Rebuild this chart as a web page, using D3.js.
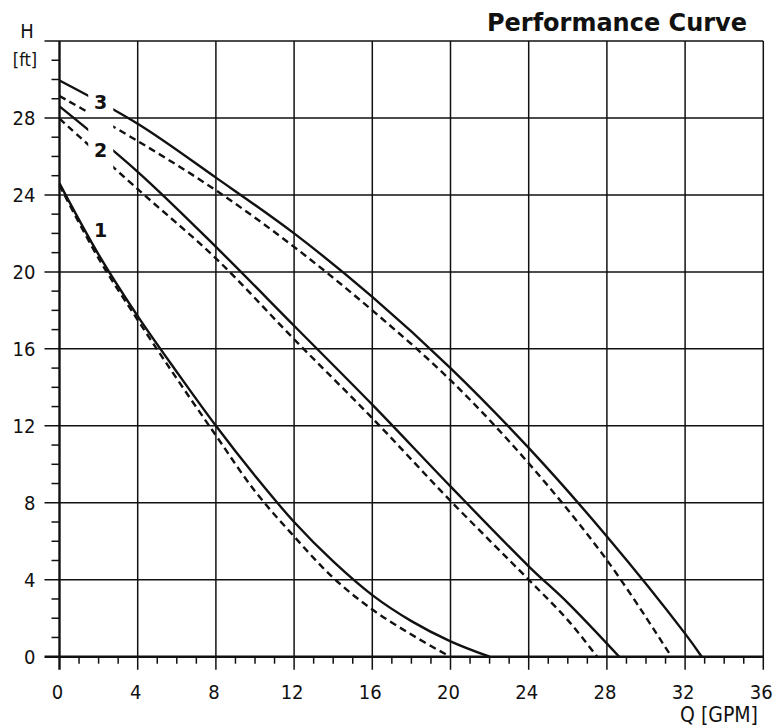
<!DOCTYPE html>
<html><head><meta charset="utf-8">
<script src="https://cdn.jsdelivr.net/npm/d3@7"></script>
<style>
html,body{margin:0;padding:0;background:#fff;}
svg{display:block;}
.tick-label{font-family:"Liberation Sans Narrow","DejaVu Sans Condensed","Liberation Sans",sans-serif;font-size:20px;fill:#111;}
</style>
</head><body>
<svg id="chart" width="782" height="728"></svg>
<script>
// ---- data ----
const xTickValues = [0, 4, 8, 12, 16, 20, 24, 28, 32, 36];
const yTickValues = [0, 4, 8, 12, 16, 20, 24, 28];
const curveLabels = ["1", "2", "3"];

// pump 1 (Q [GPM], H [ft])
const curve1Solid = [[0,24.6],[2,20.9],[4,17.7],[6,14.8],[8,12.0],[10,9.4],[12,7.0],[14,4.95],[16,3.2],[18,1.85],[20,0.8],[22,0]];
const curve1Dashed = [[0,24.5],[2,20.7],[4,17.5],[6,14.45],[8,11.5],[10,8.6],[12,6.25],[14,4.1],[16,2.45],[18,1.15],[19.8,0.1]];
// pump 2
const curve2Solid = [[0,28.6],[4,25.2],[8,21.3],[12,17.2],[16,13.1],[20,8.85],[24,4.7],[26,2.8],[28.63,0]];
const curve2Dashed = [[0,27.96],[4,24.3],[8,20.7],[12,16.5],[16,12.4],[20,8.1],[24,4.0],[26,1.9],[27.5,0]];
// pump 3
const curve3Solid = [[0,29.95],[4,27.7],[8,24.9],[12,22.0],[16,18.7],[20,15.0],[24,10.85],[28,6.25],[32,1.2],[32.85,0]];
const curve3Dashed = [[0,29.14],[4,26.8],[8,24.24],[12,21.3],[16,18.0],[20,14.37],[24,10.05],[28,5.02],[31.3,0]];

// ---- layout ----
const svg = d3.select("#chart");
const x = d3.scaleLinear().domain([0, 36]).range([59.5, 763.3]);
const y = d3.scaleLinear().domain([0, 32]).range([656.7, 41]);

const ink = "#111";

// curves
const line = d3.line().x(d => x(d[0])).y(d => y(d[1])).curve(d3.curveCatmullRom.alpha(0.5));
const curves = [
  {data: curve1Solid, dash: null},
  {data: curve1Dashed, dash: "7,4.5"},
  {data: curve2Solid, dash: null},
  {data: curve2Dashed, dash: "7,4.5"},
  {data: curve3Solid, dash: null},
  {data: curve3Dashed, dash: "7,4.5"}
];
svg.append("g").selectAll("path").data(curves).join("path")
  .attr("d", d => line(d.data))
  .attr("fill", "none")
  .attr("stroke", ink)
  .attr("stroke-width", 2.4)
  .attr("stroke-dasharray", d => d.dash);

// knock-out behind labels 2 and 3
svg.append("rect")
  .attr("x", x(1.47)).attr("width", x(2.75) - x(1.47))
  .attr("y", y(30)).attr("height", y(24.6) - y(30))
  .attr("fill", "#fff");

// grid
const grid = svg.append("g").attr("stroke", ink).attr("stroke-width", 1.5);
grid.selectAll("line.v").data(xTickValues.slice(1)).join("line")
  .attr("class", "v")
  .attr("x1", d => x(d)).attr("x2", d => x(d))
  .attr("y1", y(32)).attr("y2", y(0) + 13);
grid.selectAll("line.h").data(yTickValues.slice(1).concat([32])).join("line")
  .attr("class", "h")
  .attr("x1", x(0) - 15).attr("x2", x(36))
  .attr("y1", d => y(d)).attr("y2", d => y(d));

// minor ticks
const minorX = d3.range(0, 37).filter(v => v % 4 !== 0);
const minorY = d3.range(0, 33).filter(v => v % 4 !== 0);
grid.selectAll("line.mx").data(minorX).join("line")
  .attr("class", "mx")
  .attr("x1", d => x(d)).attr("x2", d => x(d))
  .attr("y1", y(0)).attr("y2", y(0) + 7);
grid.selectAll("line.my").data(minorY).join("line")
  .attr("class", "my")
  .attr("x1", x(0) - 8).attr("x2", x(0))
  .attr("y1", d => y(d)).attr("y2", d => y(d));

// main axes (thick)
const axes = svg.append("g").attr("stroke", ink).attr("stroke-width", 2.4);
axes.append("line").attr("x1", x(0)).attr("x2", x(0)).attr("y1", y(32)).attr("y2", y(0) + 13);
axes.append("line").attr("x1", x(0) - 15).attr("x2", x(36)).attr("y1", y(0)).attr("y2", y(0));

// tick labels
svg.append("g").selectAll("text").data(xTickValues).join("text")
  .attr("class", "tick-label")
  .attr("x", d => x(d) - 2).attr("y", y(0) + 42)
  .attr("text-anchor", "middle")
  .text(d => d);
svg.append("g").selectAll("text").data(yTickValues).join("text")
  .attr("class", "tick-label")
  .attr("x", x(0) - 24).attr("y", d => y(d) + 7)
  .attr("text-anchor", "end")
  .text(d => d);

// axis titles
svg.append("text").attr("class", "tick-label")
  .attr("x", 27).attr("y", 38).attr("text-anchor", "middle").text("H");
svg.append("text").attr("class", "tick-label").style("font-size", "18px")
  .attr("x", 25).attr("y", 66).attr("text-anchor", "middle").text("[ft]");
svg.append("text").attr("class", "tick-label").style("font-size", "21px")
  .attr("x", 758).attr("y", 722).attr("text-anchor", "end").text("Q [GPM]");

// title
svg.append("text")
  .attr("x", 747).attr("y", 31)
  .attr("text-anchor", "end")
  .style("font-family", "'DejaVu Sans', sans-serif")
  .style("font-weight", "bold")
  .style("font-size", "24px")
  .attr("fill", ink)
  .text("Performance Curve");

// curve labels
const labelPos = [[2.1, 21.8], [2.1, 25.95], [2.1, 28.45]];
svg.append("g").selectAll("text").data(curveLabels).join("text")
  .attr("x", (d, i) => x(labelPos[i][0]))
  .attr("y", (d, i) => y(labelPos[i][1]))
  .attr("text-anchor", "middle")
  .style("font-family", "'DejaVu Sans', sans-serif")
  .style("font-weight", "bold")
  .style("font-size", "19px")
  .attr("fill", ink)
  .text(d => d);
</script>
</body></html>
